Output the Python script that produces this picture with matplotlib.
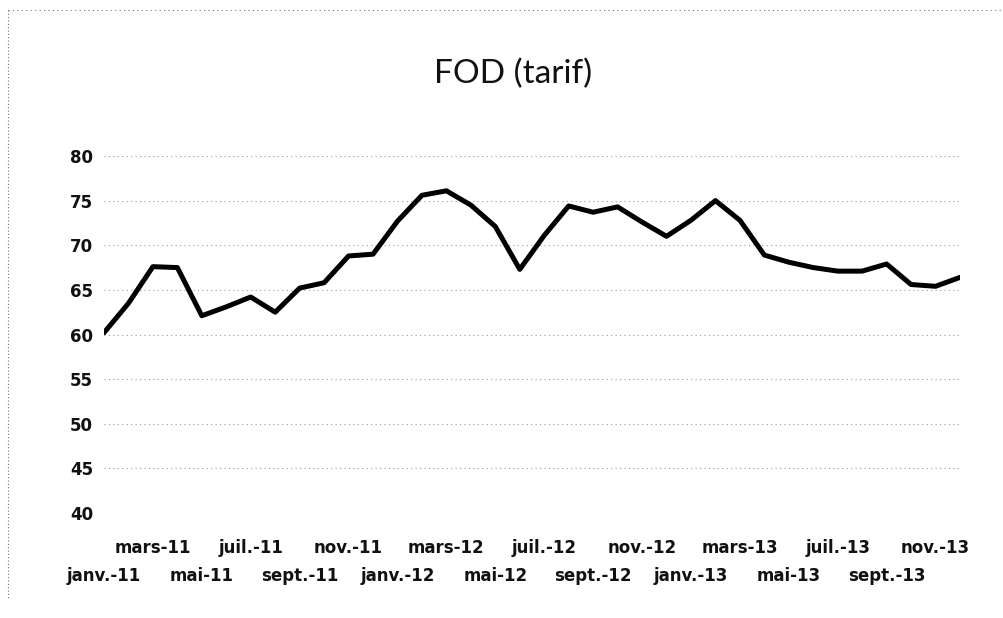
import matplotlib
matplotlib.use("Agg")
import matplotlib.pyplot as plt
from matplotlib.lines import Line2D

# Monthly FOD tariff, janv.-11 .. déc.-13
months = ["janv.-11", "févr.-11", "mars-11", "avr.-11", "mai-11", "juin-11",
          "juil.-11", "août-11", "sept.-11", "oct.-11", "nov.-11", "déc.-11",
          "janv.-12", "févr.-12", "mars-12", "avr.-12", "mai-12", "juin-12",
          "juil.-12", "août-12", "sept.-12", "oct.-12", "nov.-12", "déc.-12",
          "janv.-13", "févr.-13", "mars-13", "avr.-13", "mai-13", "juin-13",
          "juil.-13", "août-13", "sept.-13", "oct.-13", "nov.-13", "déc.-13"]
tarif = [60.2, 63.5, 67.6, 67.5, 62.1, 63.1, 64.2, 62.5, 65.2, 65.8, 68.8, 69.0,
         72.7, 75.6, 76.1, 74.5, 72.1, 67.3, 71.1, 74.4, 73.7, 74.3, 72.6, 71.0,
         72.8, 75.0, 72.8, 68.9, 68.1, 67.5, 67.1, 67.1, 67.9, 65.6, 65.4, 66.4]
y_ticks = [40, 45, 50, 55, 60, 65, 70, 75, 80]

title_font = "Lato"
tick_font = "DejaVu Sans"
W, H = 1004, 618
fig = plt.figure(figsize=(W / 100, H / 100), dpi=100)
fig.patch.set_facecolor("white")

# plot area in pixel coordinates
left, right, top, bottom = 104, 960, 156, 513
ax = fig.add_axes([left / W, 1 - bottom / H, (right - left) / W, (bottom - top) / H])

x = list(range(len(months)))
ax.plot(x, tarif, color="black", lw=3.6, solid_joinstyle="round", solid_capstyle="round", zorder=3)

ax.set_xlim(0, len(months) - 1)
ax.set_ylim(40, 80)
ax.set_yticks(y_ticks)
ax.set_yticklabels([str(v) for v in y_ticks], fontfamily=tick_font, fontsize=12, fontweight="bold")
for t in ax.get_yticklabels():
    t.set_color("#111111")

# two-row staggered category labels
ax.set_xticks(x[2::4], [months[i] for i in x[2::4]])
ax.set_xticks(x[0::4], [months[i] for i in x[0::4]], minor=True)
ax.tick_params(axis="x", which="major", length=0, pad=19)
ax.tick_params(axis="x", which="minor", length=0, pad=39)
ax.tick_params(axis="y", length=0, pad=8)
for t in ax.get_xticklabels(which="both"):
    t.set_fontfamily(tick_font)
    t.set_fontsize(12)
    t.set_fontweight("bold")
    t.set_color("#111111")

ax.grid(axis="y", color="#9a9a9a", linestyle=(0, (1, 3)), lw=0.8)
ax.grid(axis="x", visible=False)
for s in ax.spines.values():
    s.set_visible(False)

fig.text(513 / W, 1 - 74 / H, "FOD (tarif)", ha="center", va="center",
         fontfamily=title_font, fontsize=24, color="#111111")

# chart-area border (top and left edges)
fig.add_artist(Line2D([8 / W, 1.0], [1 - 10 / H, 1 - 10 / H], transform=fig.transFigure,
                      color="#777777", lw=0.8, linestyle=(0, (1, 3))))
fig.add_artist(Line2D([8 / W, 8 / W], [1 - 10 / H, 1 - 600 / H], transform=fig.transFigure,
                      color="#777777", lw=0.8, linestyle=(0, (1, 2))))

fig.savefig("out.png", dpi=100, facecolor="white")
